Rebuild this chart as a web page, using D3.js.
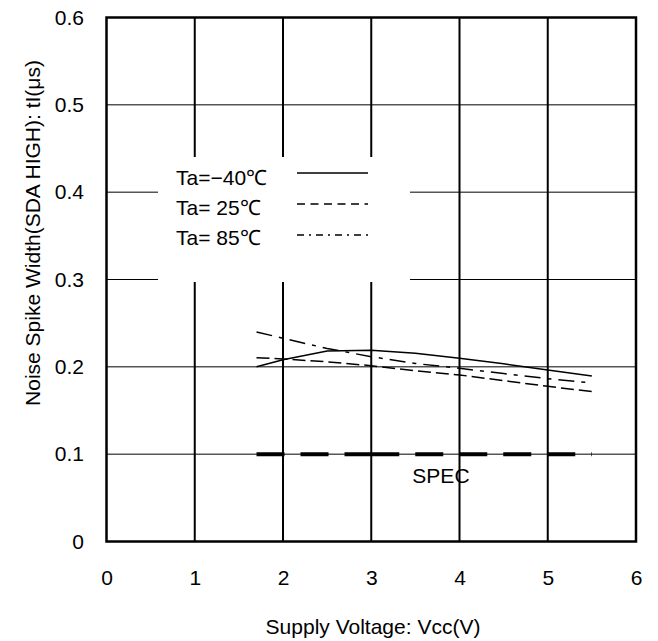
<!DOCTYPE html>
<meta charset="utf-8">
<style>
body { margin: 0; background: #fff; }
text { font-family: "Liberation Sans", Arial, sans-serif; fill: #000; }
.grid-v { stroke: #000; stroke-width: 2px; }
.grid-h { stroke: #000; stroke-width: 1px; }
.frame { fill: none; stroke: #000; stroke-width: 2.5px; }
.curve { fill: none; stroke: #000; stroke-width: 1.5px; }
.spec { fill: none; stroke: #000; stroke-width: 4px; stroke-dasharray: 28,16; }
</style>
<body>
<script src="https://d3js.org/d3.v7.min.js"></script>
<script>

// supply voltage (V) where the curves were read
var voltage = [1.7, 2.0, 2.5, 3.0, 3.5, 4.0, 4.5, 5.0, 5.5];

// noise spike width (us) per temperature
var tMinus40 = [0.200, 0.208, 0.218, 0.219, 0.2155, 0.2098, 0.2035, 0.1964, 0.1895];
var t25      = [0.2105, 0.209, 0.2057, 0.2013, 0.1955, 0.1907, 0.1842, 0.1777, 0.1716];
var t85      = [0.240, 0.2327, 0.221, 0.2116, 0.2038, 0.1983, 0.1923, 0.1864, 0.1815];

var seriesNames = ["Ta=\u221240\u2103", "Ta= 25\u2103", "Ta= 85\u2103"];
var seriesDash = [null, "13,5", "16,7,4,7"];
var legendDash = [null, "8,5.5", "7,5,2,5"];

// spec limit, drawn as two runs
var specVoltage = [1.7, 3.0, 5.5];
var specValue = 0.1;

var xTicks = [0, 1, 2, 3, 4, 5, 6];
var yTicks = [0, 0.1, 0.2, 0.3, 0.4, 0.5, 0.6];

var margin = {top: 17.5, left: 106.5},
    width = 529.5,
    height = 524;

var x = d3.scaleLinear().domain([0, 6]).range([0, width]);
var y = d3.scaleLinear().domain([0, 0.6]).range([height, 0]);

var svg = d3.select("body").append("svg")
    .attr("width", 658)
    .attr("height", 641);

var g = svg.append("g")
    .attr("transform", "translate(" + margin.left + "," + margin.top + ")");

// grid lines
g.selectAll(".grid-v")
    .data(xTicks.slice(1, -1))
  .enter().append("line")
    .attr("class", "grid-v")
    .attr("x1", function(d) { return x(d); })
    .attr("x2", function(d) { return x(d); })
    .attr("y1", 0)
    .attr("y2", height);

g.selectAll(".grid-h")
    .data(yTicks.slice(1, -1))
  .enter().append("line")
    .attr("class", "grid-h")
    .attr("x1", 0)
    .attr("x2", width)
    .attr("y1", function(d) { return y(d); })
    .attr("y2", function(d) { return y(d); });

// legend box hides the grid behind it
var legend = g.append("g");
legend.append("rect")
    .attr("x", 51.5)
    .attr("y", 139.5)
    .attr("width", 252)
    .attr("height", 125)
    .attr("fill", "#fff");

seriesNames.forEach(function(name, i) {
  legend.append("text")
      .attr("x", 69.5)
      .attr("y", 167.5 + i * 30)
      .style("font-size", "21px")
      .text(name);
  legend.append("line")
      .attr("class", "curve")
      .attr("x1", 190.5)
      .attr("x2", 261.5)
      .attr("y1", 155.5 + i * 31)
      .attr("y2", 155.5 + i * 31)
      .style("stroke-dasharray", legendDash[i]);
});

// curves
var line = d3.line()
    .x(function(d) { return x(d[0]); })
    .y(function(d) { return y(d[1]); });

[tMinus40, t25, t85].forEach(function(vals, i) {
  g.append("path")
      .datum(d3.zip(voltage, vals))
      .attr("class", "curve")
      .style("stroke-dasharray", seriesDash[i])
      .attr("d", line);
});

// spec limit
for (var i = 0; i < specVoltage.length - 1; i++) {
  g.append("path")
      .datum([[specVoltage[i], specValue], [specVoltage[i + 1], specValue]])
      .attr("class", "spec")
      .attr("d", line);
}
g.append("text")
    .attr("x", x(3.79))
    .attr("y", y(specValue) + 29)
    .attr("text-anchor", "middle")
    .style("font-size", "21px")
    .text("SPEC");

// axes
var xAxis = g.append("g")
    .attr("transform", "translate(0," + height + ")")
    .call(d3.axisBottom(x).tickValues(xTicks).tickSize(0).tickPadding(29).tickFormat(d3.format("d")));
var yAxis = g.append("g")
    .call(d3.axisLeft(y).tickValues(yTicks).tickSize(0).tickPadding(22.5)
      .tickFormat(function(d) { return d === 0 ? "0" : d3.format(".1f")(d); }));

[xAxis, yAxis].forEach(function(a) {
  a.select(".domain").remove();
  a.selectAll("text")
      .attr("font-family", null)
      .style("font-size", "21px")
      .attr("fill", "#000");
  a.attr("font-family", null).attr("font-size", null);
});

g.append("rect")
    .attr("class", "frame")
    .attr("width", width)
    .attr("height", height);

// axis titles
svg.append("text")
    .attr("x", 373)
    .attr("y", 634)
    .attr("text-anchor", "middle")
    .style("font-size", "21px")
    .text("Supply Voltage: Vcc(V)");

svg.append("text")
    .attr("transform", "translate(40,233) rotate(-90)")
    .attr("text-anchor", "middle")
    .style("font-size", "21px")
    .text("Noise Spike Width(SDA HIGH): tI(\u03bcs)");

</script>
</body>
